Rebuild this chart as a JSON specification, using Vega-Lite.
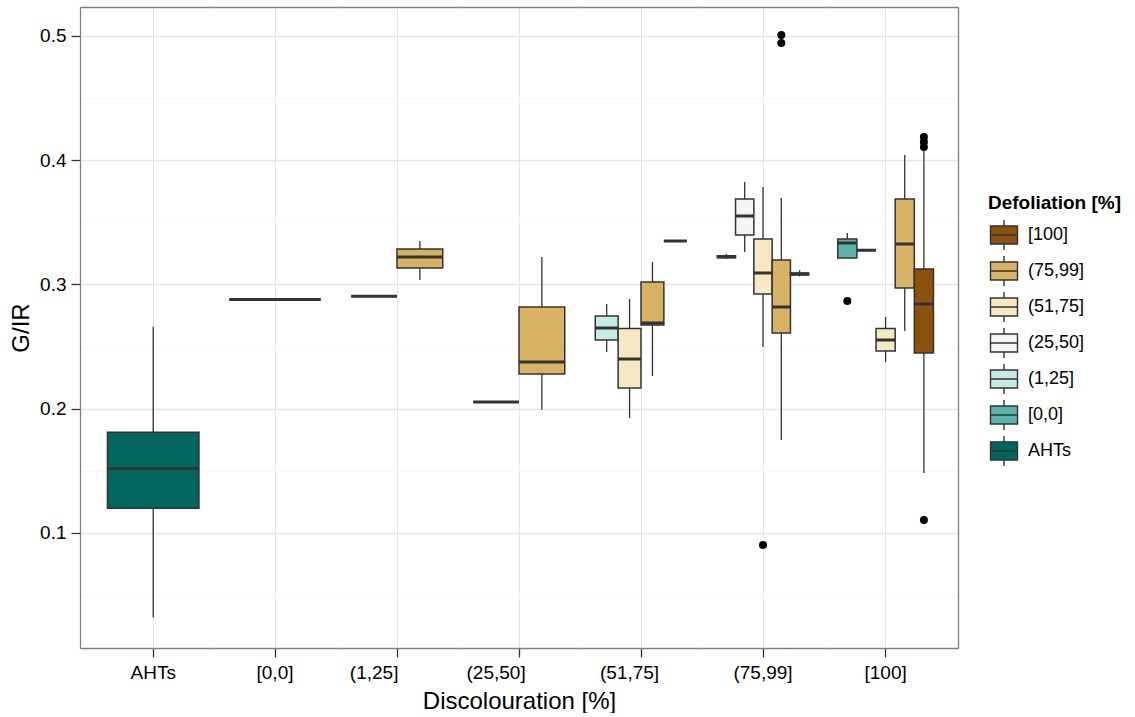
{
  "$schema": "https://vega.github.io/schema/vega-lite/v6.json",
  "padding": {"left": 9, "top": 7, "right": 0, "bottom": 0},
  "background": "white",
  "spacing": 0,
  "bounds": "flush",
  "datasets": {
    "boxes": [
      {"disc": "AHTs", "def": "AHTs", "lower": 0.032, "q1": 0.120, "median": 0.152, "q3": 0.181, "upper": 0.266},
      {"disc": "[0,0]", "def": "(75,99]", "lower": 0.288, "q1": 0.288, "median": 0.288, "q3": 0.288, "upper": 0.288},
      {"disc": "(1,25]", "def": "(51,75]", "lower": 0.2905, "q1": 0.2905, "median": 0.2905, "q3": 0.2905, "upper": 0.2905},
      {"disc": "(1,25]", "def": "(75,99]", "lower": 0.3036, "q1": 0.3133, "median": 0.3221, "q3": 0.3286, "upper": 0.335},
      {"disc": "(25,50]", "def": "(51,75]", "lower": 0.2054, "q1": 0.2054, "median": 0.2054, "q3": 0.2054, "upper": 0.2054},
      {"disc": "(25,50]", "def": "(75,99]", "lower": 0.199, "q1": 0.228, "median": 0.2376, "q3": 0.2819, "upper": 0.3221},
      {"disc": "(51,75]", "def": "(1,25]", "lower": 0.2457, "q1": 0.2553, "median": 0.265, "q3": 0.2746, "upper": 0.2843},
      {"disc": "(51,75]", "def": "(51,75]", "lower": 0.1926, "q1": 0.2167, "median": 0.240, "q3": 0.2646, "upper": 0.2883},
      {"disc": "(51,75]", "def": "(75,99]", "lower": 0.2264, "q1": 0.2674, "median": 0.269, "q3": 0.302, "upper": 0.3181},
      {"disc": "(51,75]", "def": "[100]", "lower": 0.335, "q1": 0.335, "median": 0.335, "q3": 0.335, "upper": 0.335},
      {"disc": "(75,99]", "def": "(1,25]", "lower": 0.3205, "q1": 0.3216, "median": 0.3224, "q3": 0.3232, "upper": 0.3245},
      {"disc": "(75,99]", "def": "(25,50]", "lower": 0.3262, "q1": 0.3398, "median": 0.3551, "q3": 0.3688, "upper": 0.3825},
      {"disc": "(75,99]", "def": "(51,75]", "lower": 0.2497, "q1": 0.2924, "median": 0.3093, "q3": 0.3366, "upper": 0.3785},
      {"disc": "(75,99]", "def": "(75,99]", "lower": 0.1749, "q1": 0.261, "median": 0.2819, "q3": 0.3197, "upper": 0.3696},
      {"disc": "(75,99]", "def": "[100]", "lower": 0.3065, "q1": 0.3077, "median": 0.3085, "q3": 0.3093, "upper": 0.3115},
      {"disc": "[100]", "def": "[0,0]", "lower": 0.3213, "q1": 0.3213, "median": 0.3334, "q3": 0.3366, "upper": 0.3414},
      {"disc": "[100]", "def": "(25,50]", "lower": 0.3275, "q1": 0.3275, "median": 0.3275, "q3": 0.3275, "upper": 0.3275},
      {"disc": "[100]", "def": "(51,75]", "lower": 0.2376, "q1": 0.2465, "median": 0.2553, "q3": 0.2646, "upper": 0.2738},
      {"disc": "[100]", "def": "(75,99]", "lower": 0.2626, "q1": 0.2972, "median": 0.3326, "q3": 0.3688, "upper": 0.4042},
      {"disc": "[100]", "def": "[100]", "lower": 0.1483, "q1": 0.2449, "median": 0.2843, "q3": 0.3125, "upper": 0.4099}
    ],
    "outliers": [
      {"disc": "(75,99]", "def": "(51,75]", "value": 0.0903},
      {"disc": "(75,99]", "def": "(75,99]", "value": 0.5008},
      {"disc": "(75,99]", "def": "(75,99]", "value": 0.4944},
      {"disc": "[100]", "def": "[0,0]", "value": 0.2867},
      {"disc": "[100]", "def": "[100]", "value": 0.4187},
      {"disc": "[100]", "def": "[100]", "value": 0.4147},
      {"disc": "[100]", "def": "[100]", "value": 0.4107},
      {"disc": "[100]", "def": "[100]", "value": 0.1105}
    ]
  },
  "resolve": {"scale": {"x": "independent", "y": "independent", "fill": "shared"}, "axis": {"x": "independent", "y": "independent"}},
  "hconcat": [
    {
      "width": 134, "height": 641,
      "data": {"name": "boxes"},
      "transform": [{"filter": "datum.disc == 'AHTs'"}],
      "resolve": {"axis": {"x": "independent"}},
      "layer": [
        {"mark": {"type": "rule", "color": "#333333", "strokeWidth": 1.3},
         "encoding": {
           "x": {"field": "def", "type": "nominal", "scale": {"domain": ["AHTs"], "paddingInner": 0, "paddingOuter": 0.2322, "align": 0.646},
                 "axis": {"orient": "bottom", "values": ["AHTs"], "bandPosition": 0.5, "labelExpr": "'AHTs'", "labelAngle": 0, "title": null, "grid": true, "ticks": true, "domain": true}},
           "y": {"field": "lower", "type": "quantitative", "scale": {"domain": [0.00745, 0.5233], "nice": false, "zero": false},
                 "axis": {"orient": "left", "title": "G/IR", "values": [0.05, 0.1, 0.15, 0.2, 0.25, 0.3, 0.35, 0.4, 0.45, 0.5],
                          "labelExpr": "round(datum.value*100) % 10 == 0 ? format(datum.value, '.1f') : ''",
                          "labelPadding": 5, "titlePadding": 6,
                          "tickOpacity": {"condition": {"test": "round(datum.value*100) % 10 != 0", "value": 0}, "value": 1},
                          "gridColor": {"condition": {"test": "round(datum.value*100) % 10 != 0", "value": "#f7f7f7"}, "value": "#e5e5e5"},
                          "gridWidth": {"condition": {"test": "round(datum.value*100) % 10 != 0", "value": 1}, "value": 1.5},
                          "domain": true, "grid": true, "ticks": true, "labels": true}},
           "y2": {"field": "upper"}
         }},
        {"mark": {"type": "bar", "stroke": "#333333", "strokeWidth": 1.5},
         "encoding": {
           "x": {"field": "def", "type": "nominal", "axis": {"orient": "top", "labels": false, "ticks": false, "grid": false, "domain": true, "title": null}},
           "y": {"field": "q1", "type": "quantitative"},
           "y2": {"field": "q3"},
           "fill": {"field": "def", "type": "nominal",
                    "scale": {"domain": ["[100]", "(75,99]", "(51,75]", "(25,50]", "(1,25]", "[0,0]", "AHTs"], "range": ["#8c510a", "#d8b365", "#f6e8c3", "#f5f5f5", "#c7eae5", "#5ab4ac", "#01665e"]},
                    "legend": {"title": "Defoliation [%]", "orient": "none", "legendX": 908, "legendY": 187}}
         }},
        {"mark": {"type": "bar", "stroke": "#333333", "strokeWidth": 3, "fillOpacity": 0},
         "encoding": {
           "x": {"field": "def", "type": "nominal", "axis": null},
           "y": {"field": "median", "type": "quantitative"},
           "y2": {"field": "median"}
         }}
      ]
    },
    {
      "width": 122, "height": 641,
      "data": {"name": "boxes"},
      "transform": [{"filter": "datum.disc == '[0,0]'"}],
      "resolve": {"axis": {"x": "independent"}},
      "layer": [
        {"mark": {"type": "rule", "color": "#333333", "strokeWidth": 1.3},
         "encoding": {
           "x": {"field": "def", "type": "nominal", "scale": {"domain": ["(75,99]"], "paddingInner": 0, "paddingOuter": 0.16667},
                 "axis": {"orient": "bottom", "values": ["(75,99]"], "bandPosition": 0.5, "labelExpr": "'[0,0]'", "labelAngle": 0, "title": null, "grid": true, "ticks": true, "domain": true}},
           "y": {"field": "lower", "type": "quantitative", "scale": {"domain": [0.00745, 0.5233], "nice": false, "zero": false},
                 "axis": {"title": null, "values": [0.05, 0.1, 0.15, 0.2, 0.25, 0.3, 0.35, 0.4, 0.45, 0.5],
                          "gridColor": {"condition": {"test": "round(datum.value*100) % 10 != 0", "value": "#f7f7f7"}, "value": "#e5e5e5"},
                          "gridWidth": {"condition": {"test": "round(datum.value*100) % 10 != 0", "value": 1}, "value": 1.5},
                          "domain": false, "grid": true, "ticks": false, "labels": false}},
           "y2": {"field": "upper"}
         }},
        {"mark": {"type": "bar", "stroke": "#333333", "strokeWidth": 1.5},
         "encoding": {
           "x": {"field": "def", "type": "nominal", "axis": {"orient": "top", "labels": false, "ticks": false, "grid": false, "domain": true, "title": null}},
           "y": {"field": "q1", "type": "quantitative"},
           "y2": {"field": "q3"},
           "fill": {"field": "def", "type": "nominal",
                    "scale": {"domain": ["[100]", "(75,99]", "(51,75]", "(25,50]", "(1,25]", "[0,0]", "AHTs"], "range": ["#8c510a", "#d8b365", "#f6e8c3", "#f5f5f5", "#c7eae5", "#5ab4ac", "#01665e"]},
                    "legend": {"title": "Defoliation [%]", "orient": "none", "legendX": 908, "legendY": 187}}
         }},
        {"mark": {"type": "bar", "stroke": "#333333", "strokeWidth": 3, "fillOpacity": 0},
         "encoding": {
           "x": {"field": "def", "type": "nominal", "axis": null},
           "y": {"field": "median", "type": "quantitative"},
           "y2": {"field": "median"}
         }}
      ]
    },
    {
      "width": 122, "height": 641,
      "data": {"name": "boxes"},
      "transform": [{"filter": "datum.disc == '(1,25]'"}],
      "resolve": {"axis": {"x": "independent"}},
      "layer": [
        {"mark": {"type": "rule", "color": "#333333", "strokeWidth": 1.3},
         "encoding": {
           "x": {"field": "def", "type": "nominal", "scale": {"domain": ["(51,75]", "(75,99]"], "paddingInner": 0, "paddingOuter": 0.33333},
                 "axis": {"orient": "bottom", "values": ["(51,75]"], "bandPosition": 1, "labelExpr": "'(1,25]'", "labelAngle": 0, "title": null, "grid": true, "ticks": true, "domain": true}},
           "y": {"field": "lower", "type": "quantitative", "scale": {"domain": [0.00745, 0.5233], "nice": false, "zero": false},
                 "axis": {"title": null, "values": [0.05, 0.1, 0.15, 0.2, 0.25, 0.3, 0.35, 0.4, 0.45, 0.5],
                          "gridColor": {"condition": {"test": "round(datum.value*100) % 10 != 0", "value": "#f7f7f7"}, "value": "#e5e5e5"},
                          "gridWidth": {"condition": {"test": "round(datum.value*100) % 10 != 0", "value": 1}, "value": 1.5},
                          "domain": false, "grid": true, "ticks": false, "labels": false}},
           "y2": {"field": "upper"}
         }},
        {"mark": {"type": "bar", "stroke": "#333333", "strokeWidth": 1.5},
         "encoding": {
           "x": {"field": "def", "type": "nominal", "axis": {"orient": "top", "labels": false, "ticks": false, "grid": false, "domain": true, "title": null}},
           "y": {"field": "q1", "type": "quantitative"},
           "y2": {"field": "q3"},
           "fill": {"field": "def", "type": "nominal",
                    "scale": {"domain": ["[100]", "(75,99]", "(51,75]", "(25,50]", "(1,25]", "[0,0]", "AHTs"], "range": ["#8c510a", "#d8b365", "#f6e8c3", "#f5f5f5", "#c7eae5", "#5ab4ac", "#01665e"]},
                    "legend": {"title": "Defoliation [%]", "orient": "none", "legendX": 908, "legendY": 187}}
         }},
        {"mark": {"type": "bar", "stroke": "#333333", "strokeWidth": 3, "fillOpacity": 0},
         "encoding": {
           "x": {"field": "def", "type": "nominal", "axis": null},
           "y": {"field": "median", "type": "quantitative"},
           "y2": {"field": "median"}
         }}
      ]
    },
    {
      "width": 122, "height": 641,
      "data": {"name": "boxes"},
      "transform": [{"filter": "datum.disc == '(25,50]'"}],
      "resolve": {"axis": {"x": "independent"}},
      "layer": [
        {"mark": {"type": "rule", "color": "#333333", "strokeWidth": 1.3},
         "encoding": {
           "x": {"field": "def", "type": "nominal", "scale": {"domain": ["(51,75]", "(75,99]"], "paddingInner": 0, "paddingOuter": 0.33333},
                 "axis": {"orient": "bottom", "values": ["(51,75]"], "bandPosition": 1, "labelExpr": "'(25,50]'", "labelAngle": 0, "title": "Discolouration [%]", "titleFontSize": 24, "titlePadding": 7, "grid": true, "ticks": true, "domain": true}},
           "y": {"field": "lower", "type": "quantitative", "scale": {"domain": [0.00745, 0.5233], "nice": false, "zero": false},
                 "axis": {"title": null, "values": [0.05, 0.1, 0.15, 0.2, 0.25, 0.3, 0.35, 0.4, 0.45, 0.5],
                          "gridColor": {"condition": {"test": "round(datum.value*100) % 10 != 0", "value": "#f7f7f7"}, "value": "#e5e5e5"},
                          "gridWidth": {"condition": {"test": "round(datum.value*100) % 10 != 0", "value": 1}, "value": 1.5},
                          "domain": false, "grid": true, "ticks": false, "labels": false}},
           "y2": {"field": "upper"}
         }},
        {"mark": {"type": "bar", "stroke": "#333333", "strokeWidth": 1.5},
         "encoding": {
           "x": {"field": "def", "type": "nominal", "axis": {"orient": "top", "labels": false, "ticks": false, "grid": false, "domain": true, "title": null}},
           "y": {"field": "q1", "type": "quantitative"},
           "y2": {"field": "q3"},
           "fill": {"field": "def", "type": "nominal",
                    "scale": {"domain": ["[100]", "(75,99]", "(51,75]", "(25,50]", "(1,25]", "[0,0]", "AHTs"], "range": ["#8c510a", "#d8b365", "#f6e8c3", "#f5f5f5", "#c7eae5", "#5ab4ac", "#01665e"]},
                    "legend": {"title": "Defoliation [%]", "orient": "none", "legendX": 908, "legendY": 187}}
         }},
        {"mark": {"type": "bar", "stroke": "#333333", "strokeWidth": 3, "fillOpacity": 0},
         "encoding": {
           "x": {"field": "def", "type": "nominal", "axis": null},
           "y": {"field": "median", "type": "quantitative"},
           "y2": {"field": "median"}
         }}
      ]
    },
    {
      "width": 122, "height": 641,
      "data": {"name": "boxes"},
      "transform": [{"filter": "datum.disc == '(51,75]'"}],
      "resolve": {"axis": {"x": "independent"}},
      "layer": [
        {"mark": {"type": "rule", "color": "#333333", "strokeWidth": 1.3},
         "encoding": {
           "x": {"field": "def", "type": "nominal", "scale": {"domain": ["(1,25]", "(51,75]", "(75,99]", "[100]"], "paddingInner": 0, "paddingOuter": 0.66667},
                 "axis": {"orient": "bottom", "values": ["(51,75]"], "bandPosition": 1, "labelExpr": "'(51,75]'", "labelAngle": 0, "title": null, "grid": true, "ticks": true, "domain": true}},
           "y": {"field": "lower", "type": "quantitative", "scale": {"domain": [0.00745, 0.5233], "nice": false, "zero": false},
                 "axis": {"title": null, "values": [0.05, 0.1, 0.15, 0.2, 0.25, 0.3, 0.35, 0.4, 0.45, 0.5],
                          "gridColor": {"condition": {"test": "round(datum.value*100) % 10 != 0", "value": "#f7f7f7"}, "value": "#e5e5e5"},
                          "gridWidth": {"condition": {"test": "round(datum.value*100) % 10 != 0", "value": 1}, "value": 1.5},
                          "domain": false, "grid": true, "ticks": false, "labels": false}},
           "y2": {"field": "upper"}
         }},
        {"mark": {"type": "bar", "stroke": "#333333", "strokeWidth": 1.5},
         "encoding": {
           "x": {"field": "def", "type": "nominal", "axis": {"orient": "top", "labels": false, "ticks": false, "grid": false, "domain": true, "title": null}},
           "y": {"field": "q1", "type": "quantitative"},
           "y2": {"field": "q3"},
           "fill": {"field": "def", "type": "nominal",
                    "scale": {"domain": ["[100]", "(75,99]", "(51,75]", "(25,50]", "(1,25]", "[0,0]", "AHTs"], "range": ["#8c510a", "#d8b365", "#f6e8c3", "#f5f5f5", "#c7eae5", "#5ab4ac", "#01665e"]},
                    "legend": {"title": "Defoliation [%]", "orient": "none", "legendX": 908, "legendY": 187}}
         }},
        {"mark": {"type": "bar", "stroke": "#333333", "strokeWidth": 3, "fillOpacity": 0},
         "encoding": {
           "x": {"field": "def", "type": "nominal", "axis": null},
           "y": {"field": "median", "type": "quantitative"},
           "y2": {"field": "median"}
         }}
      ]
    },
    {
      "width": 122, "height": 641,
      "resolve": {"axis": {"x": "independent"}},
      "layer": [
        {"data": {"name": "boxes"},
         "transform": [{"filter": "datum.disc == '(75,99]'"}],
         "mark": {"type": "rule", "color": "#333333", "strokeWidth": 1.3},
         "encoding": {
           "x": {"field": "def", "type": "nominal", "scale": {"domain": ["(1,25]", "(25,50]", "(51,75]", "(75,99]", "[100]"], "paddingInner": 0, "paddingOuter": 0.83333},
                 "axis": {"orient": "bottom", "values": ["(51,75]"], "bandPosition": 0.5, "labelExpr": "'(75,99]'", "labelAngle": 0, "title": null, "grid": true, "ticks": true, "domain": true}},
           "y": {"field": "lower", "type": "quantitative", "scale": {"domain": [0.00745, 0.5233], "nice": false, "zero": false},
                 "axis": {"title": null, "values": [0.05, 0.1, 0.15, 0.2, 0.25, 0.3, 0.35, 0.4, 0.45, 0.5],
                          "gridColor": {"condition": {"test": "round(datum.value*100) % 10 != 0", "value": "#f7f7f7"}, "value": "#e5e5e5"},
                          "gridWidth": {"condition": {"test": "round(datum.value*100) % 10 != 0", "value": 1}, "value": 1.5},
                          "domain": false, "grid": true, "ticks": false, "labels": false}},
           "y2": {"field": "upper"}
         }},
        {"data": {"name": "boxes"},
         "transform": [{"filter": "datum.disc == '(75,99]'"}],
         "mark": {"type": "bar", "stroke": "#333333", "strokeWidth": 1.5},
         "encoding": {
           "x": {"field": "def", "type": "nominal", "axis": {"orient": "top", "labels": false, "ticks": false, "grid": false, "domain": true, "title": null}},
           "y": {"field": "q1", "type": "quantitative"},
           "y2": {"field": "q3"},
           "fill": {"field": "def", "type": "nominal",
                    "scale": {"domain": ["[100]", "(75,99]", "(51,75]", "(25,50]", "(1,25]", "[0,0]", "AHTs"], "range": ["#8c510a", "#d8b365", "#f6e8c3", "#f5f5f5", "#c7eae5", "#5ab4ac", "#01665e"]},
                    "legend": {"title": "Defoliation [%]", "orient": "none", "legendX": 908, "legendY": 187}}
         }},
        {"data": {"name": "boxes"},
         "transform": [{"filter": "datum.disc == '(75,99]'"}],
         "mark": {"type": "bar", "stroke": "#333333", "strokeWidth": 3, "fillOpacity": 0},
         "encoding": {
           "x": {"field": "def", "type": "nominal", "axis": null},
           "y": {"field": "median", "type": "quantitative"},
           "y2": {"field": "median"}
         }},
        {"data": {"name": "outliers"},
         "transform": [{"filter": "datum.disc == '(75,99]'"}],
         "mark": {"type": "circle", "color": "#000000", "size": 64, "opacity": 1},
         "encoding": {
           "x": {"field": "def", "type": "nominal", "axis": null},
           "y": {"field": "value", "type": "quantitative"}
         }}
      ]
    },
    {
      "width": 134, "height": 641,
      "resolve": {"axis": {"x": "independent"}},
      "layer": [
        {"data": {"name": "boxes"},
         "transform": [{"filter": "datum.disc == '[100]'"}],
         "mark": {"type": "rule", "color": "#333333", "strokeWidth": 1.3},
         "encoding": {
           "x": {"field": "def", "type": "nominal", "scale": {"domain": ["[0,0]", "(25,50]", "(51,75]", "(75,99]", "[100]"], "paddingInner": 0, "paddingOuter": 1.1612, "align": 0.359},
                 "axis": {"orient": "bottom", "values": ["(51,75]"], "bandPosition": 0.5, "labelExpr": "'[100]'", "labelAngle": 0, "title": null, "grid": true, "ticks": true, "domain": true}},
           "y": {"field": "lower", "type": "quantitative", "scale": {"domain": [0.00745, 0.5233], "nice": false, "zero": false},
                 "axis": {"orient": "right", "title": null, "values": [0.05, 0.1, 0.15, 0.2, 0.25, 0.3, 0.35, 0.4, 0.45, 0.5],
                          "gridColor": {"condition": {"test": "round(datum.value*100) % 10 != 0", "value": "#f7f7f7"}, "value": "#e5e5e5"},
                          "gridWidth": {"condition": {"test": "round(datum.value*100) % 10 != 0", "value": 1}, "value": 1.5},
                          "domain": true, "grid": true, "ticks": false, "labels": false}},
           "y2": {"field": "upper"}
         }},
        {"data": {"name": "boxes"},
         "transform": [{"filter": "datum.disc == '[100]'"}],
         "mark": {"type": "bar", "stroke": "#333333", "strokeWidth": 1.5},
         "encoding": {
           "x": {"field": "def", "type": "nominal", "axis": {"orient": "top", "labels": false, "ticks": false, "grid": false, "domain": true, "title": null}},
           "y": {"field": "q1", "type": "quantitative"},
           "y2": {"field": "q3"},
           "fill": {"field": "def", "type": "nominal",
                    "scale": {"domain": ["[100]", "(75,99]", "(51,75]", "(25,50]", "(1,25]", "[0,0]", "AHTs"], "range": ["#8c510a", "#d8b365", "#f6e8c3", "#f5f5f5", "#c7eae5", "#5ab4ac", "#01665e"]},
                    "legend": {"title": "Defoliation [%]", "orient": "none", "legendX": 908, "legendY": 187}}
         }},
        {"data": {"name": "boxes"},
         "transform": [{"filter": "datum.disc == '[100]'"}],
         "mark": {"type": "bar", "stroke": "#333333", "strokeWidth": 3, "fillOpacity": 0},
         "encoding": {
           "x": {"field": "def", "type": "nominal", "axis": null},
           "y": {"field": "median", "type": "quantitative"},
           "y2": {"field": "median"}
         }},
        {"data": {"name": "outliers"},
         "transform": [{"filter": "datum.disc == '[100]'"}],
         "mark": {"type": "circle", "color": "#000000", "size": 64, "opacity": 1},
         "encoding": {
           "x": {"field": "def", "type": "nominal", "axis": null},
           "y": {"field": "value", "type": "quantitative"}
         }}
      ]
    }
  ],
  "config": {
    "font": "Liberation Sans",
    "view": {"stroke": null},
    "axis": {"domainColor": "#7f7f7f", "domainWidth": 1.3, "tickColor": "#333333", "tickWidth": 1.3, "tickSize": 9,
             "labelColor": "#000000", "labelFontSize": 19, "labelPadding": 6, "labelFont": "Liberation Sans",
             "titleColor": "#000000", "titleFontSize": 24, "titleFontWeight": "normal", "titleFont": "Liberation Sans",
             "titlePadding": 4, "gridColor": "#e5e5e5"},
    "legend": {"symbolType": "M-0.9,-0.6H0.9V0.6H-0.9Z M-0.9,0H0.9 M0,-1V-0.6 M0,0.6V1", "symbolSize": 900,
               "symbolStrokeColor": "#333333", "symbolStrokeWidth": 1.4, "symbolOpacity": 1,
               "labelFontSize": 18, "labelFont": "Liberation Sans", "labelColor": "#000000", "labelOffset": 8,
               "titleFontSize": 19, "titleFontWeight": "bold", "titleFont": "Liberation Sans", "titleColor": "#000000",
               "titlePadding": 6, "rowPadding": 0}
  }
}
